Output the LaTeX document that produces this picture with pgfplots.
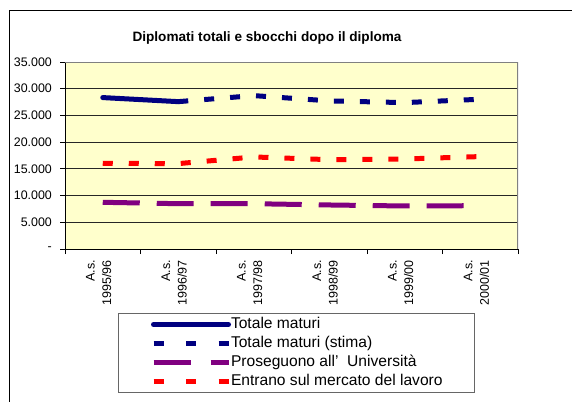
\documentclass[border=0pt]{standalone}
\usepackage{pgfplots}
\pgfplotsset{compat=1.18}
\usepackage{fontspec}
\setmainfont{Liberation Sans}
\definecolor{bgyellow}{HTML}{FFFFCC}
\definecolor{navyx}{HTML}{000080}
\definecolor{purplex}{HTML}{800080}
\definecolor{redx}{HTML}{FF0000}
\begin{document}
\begin{tikzpicture}[x=1bp,y=1bp]
\path[use as bounding box] (0,0) rectangle (572,401);
\draw[black, line width=1bp] (9,-10) rectangle (620,390);
\node[font=\bfseries\fontsize{13.6bp}{16bp}\selectfont] at (267,363) {Diplomati totali e sbocchi dopo il diploma};
\begin{axis}[
  at={(65bp,152bp)}, anchor=south west,
  scale only axis, width=453bp, height=187bp,
  xmin=-0.5, xmax=5.5, ymin=0, ymax=35000,
  scaled y ticks=false,
  axis background/.style={fill=bgyellow},
  axis lines=left, axis line style={-, black, line width=1bp},
  tick align=outside,
  major tick length=5bp, minor tick length=5bp,
  xtick={0,1,2,3,4,5},
  xticklabels={{A.s.\\1995/96},{A.s.\\1996/97},{A.s.\\1997/98},{A.s.\\1998/99},{A.s.\\1999/00},{A.s.\\2000/01}},
  major x tick style={draw=none},
  minor xtick={-0.5,0.5,1.5,2.5,3.5,4.5,5.5},
  minor x tick style={black, line width=0.8bp},
  ytick={0,5000,10000,15000,20000,25000,30000,35000},
  yticklabels={-,5.000,10.000,15.000,20.000,25.000,30.000,35.000},
  y tick style={black, line width=0.8bp},
  ymajorgrids, major grid style={black!85, line width=1bp},
  xticklabel style={yshift=-6bp, xshift=-4bp, rotate=90, anchor=east, align=right, font=\fontsize{12.5bp}{16.5bp}\selectfont, inner sep=0pt},
  yticklabel style={font=\fontsize{12.4bp}{15bp}\selectfont, inner sep=0pt, xshift=-8bp},
  legend style={at={(axis description cs:0.117,-0.3422)}, anchor=north west,
    draw=black!60, line width=1bp, inner xsep=0pt, inner ysep=1.5bp,
    font=\fontsize{15.6bp}{18bp}\selectfont,
    nodes={inner sep=0pt, text height=14bp, text depth=5bp},
    legend cell align=left},
  legend image code/.code={\path[draw=none,fill=none] (0bp,-4bp) rectangle (110bp,4bp); \draw[#1] (35bp,0bp) -- (110bp,0bp);},
]
\addplot[navyx, line width=5bp, line cap=round] coordinates {(0,28340) (1,27580)};
\addlegendentry{\makebox[243bp][l]{Totale maturi}}
\addplot[navyx, line width=5bp, dash pattern=on 10bp off 16bp, legend image post style={dash pattern=on 10bp off 22.5bp}] coordinates {(1,27580) (2,28710) (3,27720) (4,27400) (5,28030)};
\addlegendentry{\makebox[243bp][l]{Totale maturi (stima)}}
\addplot[purplex, line width=5bp, dash pattern=on 37bp off 17bp, legend image post style={dash pattern=on 37bp off 20bp}] coordinates {(0,8740) (1,8480) (2,8480) (3,8240) (4,8050) (5,8110)};
\addlegendentry{\makebox[243bp][l]{Proseguono all'\ \ Università}}
\addplot[redx, line width=5bp, dash pattern=on 10bp off 16bp, legend image post style={dash pattern=on 10bp off 22.5bp}] coordinates {(0,16050) (1,15980) (2,17230) (3,16720) (4,16850) (5,17300)};
\addlegendentry{\makebox[243bp][l]{Entrano sul mercato del lavoro}}
\draw[black!50, line width=1.5bp] (rel axis cs:0,1) -- (rel axis cs:1,1) -- (rel axis cs:1,0);
\end{axis}
\end{tikzpicture}
\end{document}
